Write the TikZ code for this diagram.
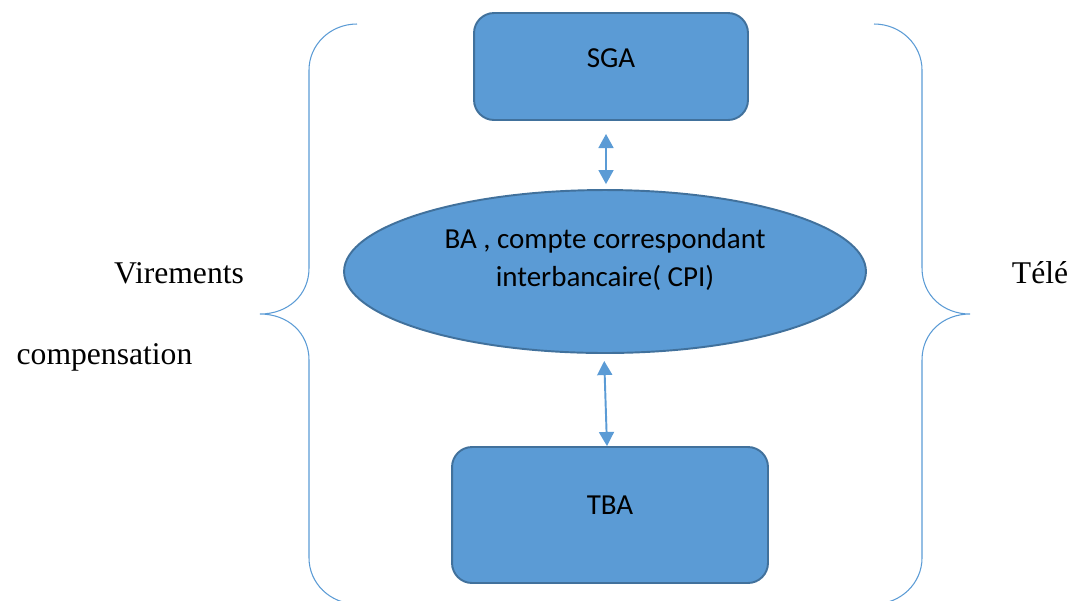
\documentclass[tikz,border=0pt]{standalone}
\usepackage{fontspec}
\setmainfont{Liberation Serif}
\newfontfamily\shapefont{Carlito}
\usetikzlibrary{arrows.meta,shapes.geometric,positioning}

\definecolor{officeblue}{HTML}{5B9BD5}
\definecolor{edgeblue}{HTML}{41719C}

\begin{document}
\begin{tikzpicture}[x=0.02cm, y=-0.02cm,
        box/.style={draw=edgeblue, line width=1.1pt, fill=officeblue, rounded corners=0.4cm},
        oval/.style={ellipse, draw=edgeblue, line width=1.1pt, fill=officeblue, inner sep=0pt},
        inside/.style={font=\shapefont\fontsize{16.5}{21.5}\selectfont, align=center, text=black},
        link/.style={officeblue, line width=1.1pt, {Triangle[length=8pt,width=8.5pt]}-{Triangle[length=8pt,width=8.5pt]}},
        brace/.style={officeblue, line width=0.6pt},
        side/.style={font=\fontsize{18}{22}\selectfont}]
        \useasboundingbox (0, 0) rectangle (1077, 600);
        % braces
        \begin{scope}
                \clip (0, 0) rectangle (1077, 600);
                \draw[brace] (357, 24) .. controls (330, 24) and (309, 45) .. (309, 70) -- (309, 268)
                        .. controls (309, 295) and (288, 314) .. (260, 314)
                        .. controls (288, 314) and (309, 333) .. (309, 360) -- (309, 558)
                        .. controls (309, 583) and (330, 604) .. (357, 604);
                \draw[brace] (874, 24) .. controls (901, 24) and (922, 45) .. (922, 70) -- (922, 268)
                        .. controls (922, 295) and (943, 314) .. (970, 314)
                        .. controls (943, 314) and (922, 333) .. (922, 360) -- (922, 558)
                        .. controls (922, 583) and (901, 604) .. (874, 604);
        \end{scope}
        % shapes
        \node[box, minimum width=5.48cm, minimum height=2.14cm,
                label={[inside, yshift=4.5pt]center:SGA}] (sga) at (611, 66.5) {};
        \node[oval, minimum width=10.44cm, minimum height=3.26cm,
                label={[inside, yshift=6.8pt]center:BA , compte correspondant\\interbancaire( CPI)}] (ba) at (605, 271.5) {};
        \node[box, minimum width=6.32cm, minimum height=2.72cm,
                label={[inside, yshift=5.7pt]center:TBA}] (tba) at (610, 515) {};
        % arrows
        \draw[link, shorten <=7.4pt, shorten >=2.8pt] ([xshift=-5*0.02cm]sga.south) -- ([xshift=1*0.02cm]ba.north);
        \draw[link, shorten <=4pt] ([xshift=-1*0.02cm]ba.south) -- ([xshift=-3*0.02cm]tba.north);
        % labels
        \node[side] (vir) at (179, 273) {Virements};
        \node[side] (comp) at (104.5, 357) {compensation};
        \node[side] (tele) at (1040, 273) {Télé};
\end{tikzpicture}
\end{document}
